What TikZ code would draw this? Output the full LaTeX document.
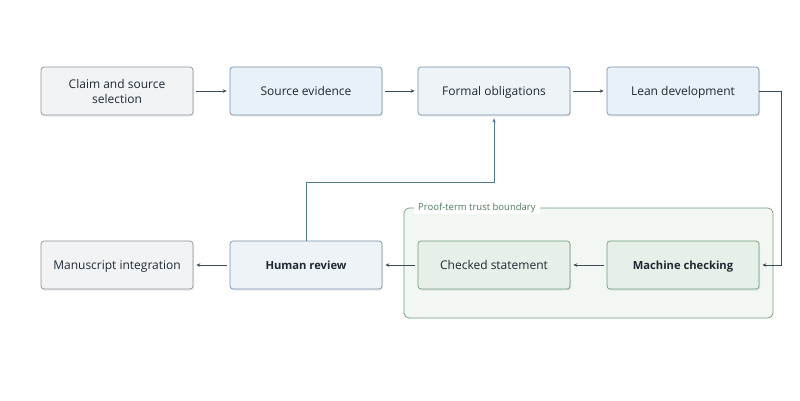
\documentclass[tikz,border=0pt]{standalone}
\usepackage{fontspec}
\setmainfont{Open Sans}
\usetikzlibrary{arrows.meta,shadows}
\definecolor{txt}{HTML}{1F2933}
\definecolor{grayfill}{HTML}{F1F3F5}
\definecolor{grayline}{HTML}{8C949C}
\definecolor{bluefill}{HTML}{E8F0F8}
\definecolor{blueline}{HTML}{7891A8}
\definecolor{bluefill2}{HTML}{EEF3F7}
\definecolor{greenfill}{HTML}{E6EFE8}
\definecolor{greenline}{HTML}{6E9A78}
\definecolor{zonefill}{HTML}{F2F7F3}
\definecolor{greentxt}{HTML}{4E7A5A}
\definecolor{arrowc}{HTML}{3E4A56}
\definecolor{backc}{HTML}{4F7896}
\tikzset{
  box/.style={draw, rounded corners=3pt, minimum width=152pt, minimum height=48pt,
    align=center, text=txt, font=\fontsize{12}{14.5}\selectfont, line width=0.7pt,
    text height=9.5pt, text depth=0pt,
    drop shadow={shadow xshift=1pt, shadow yshift=-1.5pt, fill=black, opacity=0.08}},
  boldtext/.style={font=\fontsize{11.2}{14}\selectfont\bfseries},
  graybox/.style={box, fill=grayfill, draw=grayline},
  bluebox/.style={box, fill=bluefill, draw=blueline},
  lbluebox/.style={box, fill=bluefill2, draw=blueline},
  greenbox/.style={box, fill=greenfill, draw=greenline},
  conn/.style={draw=arrowc, line width=0.7pt, -{Stealth[length=4pt,width=3.5pt]}, shorten >=3pt},
  backconn/.style={conn, draw=backc},
}
\begin{document}
\begin{tikzpicture}[x=1pt,y=-1pt]
\useasboundingbox (0,0) rectangle (800,400);
\fill[white] (0,0) rectangle (800,400);
% trust boundary
\node[draw=greenline, fill=zonefill, rounded corners=5pt, line width=0.7pt,
  minimum width=369pt, minimum height=110pt, inner sep=0pt] (zone) at (588.5,263) {};
\node[fill=white, text=greentxt, font=\fontsize{9.5}{11}\selectfont, inner xsep=4pt, inner ysep=1pt, anchor=west] (zlabel) at (414,208) {Proof-term trust boundary};
% row 1
\node[graybox, text height=24pt, text depth=0pt] (claim) at (117,91) {Claim and source\\selection};
\node[bluebox] (src) at (306,91) {Source evidence};
\node[lbluebox] (formal) at (494,91) {Formal obligations};
\node[bluebox] (lean) at (683,91) {Lean development};
% row 2
\node[graybox] (manu) at (117,265) {Manuscript integration};
\node[lbluebox, boldtext] (human) at (306,265) {Human review};
\node[greenbox] (checked) at (494,265) {Checked statement};
\node[greenbox, boldtext] (machine) at (683,265) {Machine checking};
\coordinate (c1) at (781,91);
\coordinate (c2) at (781,265);
\coordinate (c3) at (306,182);
\coordinate (c4) at (494,182);
% connectors
\draw[conn, shorten <=3pt] (claim) -- (src);
\draw[conn, shorten <=3pt] (src) -- (formal);
\draw[conn, shorten <=3pt] (formal) -- (lean);
\draw[conn] (lean.east) -- (c1) -- (c2) -- (machine.east);
\draw[conn, shorten <=3pt] (machine) -- (checked);
\draw[conn, shorten <=3pt] (checked) -- (human);
\draw[conn, shorten <=3pt] (human) -- (manu);
\draw[backconn] (human.north) -- (c3) -- (c4) -- (formal.south);
\end{tikzpicture}
\end{document}
